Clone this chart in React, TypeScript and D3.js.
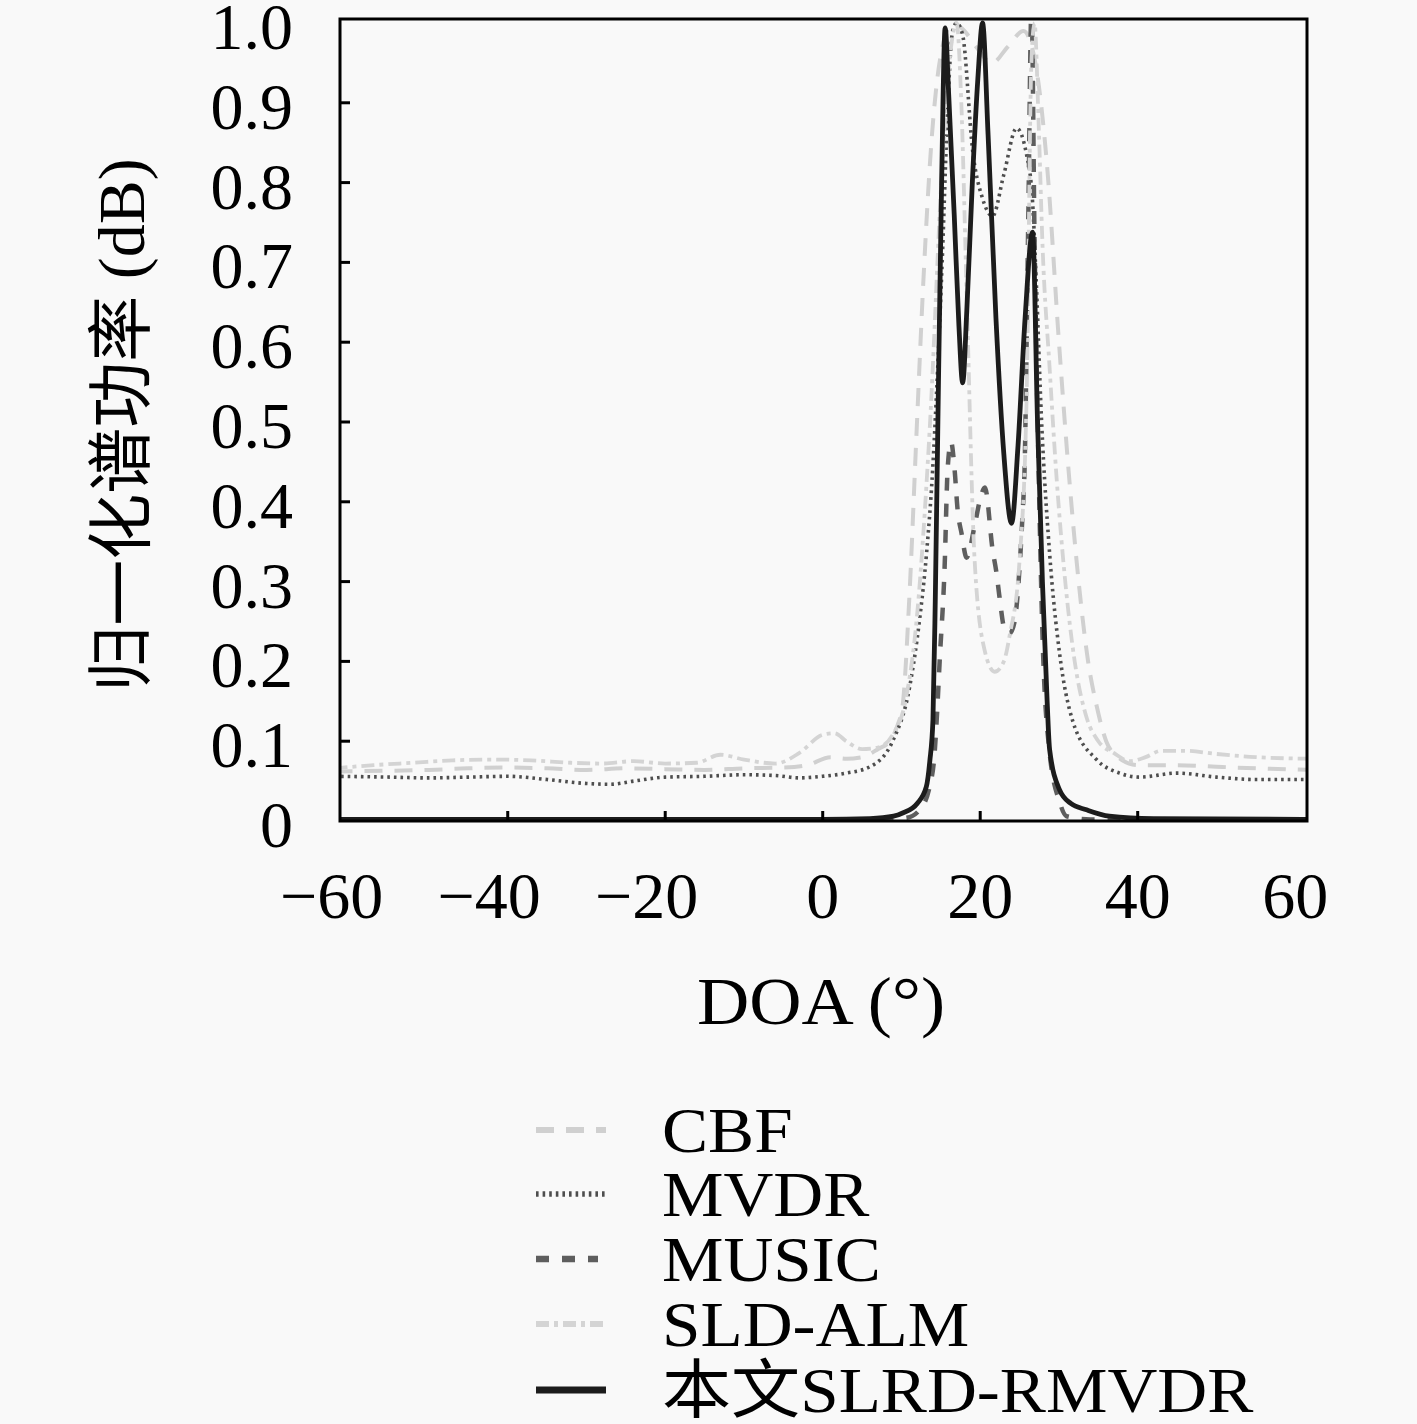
import React from "react";
import * as d3 from "d3";

// ---------- data (DOA in degrees, normalized power) ----------
const xTicks = [-60, -40, -20, 0, 20, 40, 60];
const yTicks = [0, 0.1, 0.2, 0.3, 0.4, 0.5, 0.6, 0.7, 0.8, 0.9, 1.0];
const yTickLabels = ["0", "0.1", "0.2", "0.3", "0.4", "0.5", "0.6", "0.7", "0.8", "0.9", "1.0"];

const seriesNames = ["CBF", "MVDR", "MUSIC", "SLD-ALM", "本文SLRD-RMVDR"];

const cbf: [number, number][] = [
  [-62, 0.062], [-55, 0.063], [-50, 0.064], [-45, 0.066], [-40, 0.067], [-35, 0.066],
  [-30, 0.064], [-25, 0.066], [-20, 0.065], [-15, 0.064], [-10, 0.066], [-5, 0.067],
  [-2, 0.07], [1, 0.08], [3, 0.078], [5, 0.08], [7, 0.09], [8.5, 0.1], [9.5, 0.12],
  [10.15, 0.145], [11, 0.28], [11.93, 0.49], [12.8, 0.68], [13.8, 0.85], [15, 0.96],
  [16.5, 1.0], [18, 0.99], [19.5, 0.97], [21.5, 0.95], [23.5, 0.97], [25.5, 0.99],
  [27, 0.95], [28.5, 0.82], [30, 0.6], [31.3, 0.43], [32.5, 0.3], [33.7, 0.2],
  [34.77, 0.145], [36, 0.1], [37.5, 0.08], [40, 0.07], [45, 0.07], [50, 0.068],
  [55, 0.066], [62, 0.064],
];

const mvdr: [number, number][] = [
  [-62, 0.056], [-55, 0.055], [-50, 0.054], [-45, 0.055], [-40, 0.056], [-35, 0.052],
  [-30, 0.047], [-27, 0.046], [-24, 0.05], [-20, 0.055], [-15, 0.056], [-10, 0.058],
  [-6, 0.057], [-3, 0.054], [0, 0.056], [3, 0.06], [6, 0.068], [8.88, 0.1],
  [11.04, 0.168], [12.31, 0.253], [13.2, 0.337], [13.96, 0.44], [14.47, 0.54],
  [15.23, 0.716], [15.74, 0.86], [16.5, 0.99], [17.0, 1.0], [17.77, 0.985],
  [19.04, 0.84], [20.3, 0.78], [21.57, 0.758], [23.0, 0.81], [24.62, 0.868],
  [25.89, 0.835], [26.65, 0.776], [27.1, 0.68], [27.79, 0.502], [28.81, 0.336],
  [30.08, 0.21], [31.73, 0.126], [34.77, 0.077], [37.69, 0.06], [40.2, 0.055],
  [45, 0.06], [50, 0.055], [55, 0.052], [62, 0.052],
];

const music: [number, number][] = [
  [-62, 0.001], [-30, 0.001], [0, 0.001], [8, 0.002], [10.66, 0.004], [12.31, 0.014],
  [13.58, 0.043], [14.21, 0.085], [14.59, 0.148], [14.85, 0.2], [15.48, 0.318],
  [15.86, 0.44], [16.3, 0.475], [16.75, 0.44], [17.13, 0.39], [17.64, 0.36],
  [18.27, 0.33], [19.29, 0.37], [19.92, 0.4], [20.6, 0.418], [21.57, 0.34],
  [22.08, 0.31], [22.46, 0.28], [23.1, 0.24], [23.73, 0.235], [24.37, 0.25],
  [25.0, 0.318], [25.38, 0.385], [25.63, 0.44], [26.1, 0.75], [26.52, 1.02],
  [26.9, 0.73], [27.4, 0.45], [27.92, 0.23], [28.81, 0.086], [30.08, 0.024],
  [30.96, 0.006], [34, 0.002], [62, 0.001],
];

const sldAlm: [number, number][] = [
  [-62, 0.066], [-57, 0.07], [-52, 0.073], [-47, 0.076], [-42, 0.077], [-37, 0.076],
  [-32, 0.073], [-28, 0.072], [-24, 0.075], [-20, 0.072], [-16, 0.073], [-13, 0.083],
  [-10, 0.077], [-6, 0.072], [-3, 0.085], [0, 0.108], [1.5, 0.11], [3, 0.1], [5, 0.09],
  [7, 0.092], [9, 0.11], [10.5, 0.15], [12, 0.26], [13.58, 0.49], [15.23, 0.83],
  [16.3, 0.97], [17, 1.0], [17.6, 0.9], [18.27, 0.665], [19.29, 0.327], [20.56, 0.214],
  [21.83, 0.187], [23, 0.2], [23.73, 0.232], [25, 0.327], [25.89, 0.53], [26.5, 0.95],
  [26.9, 1.0], [27.4, 0.88], [27.92, 0.72], [28.8, 0.57], [29.7, 0.43], [30.8, 0.3],
  [32, 0.2], [33.5, 0.13], [35, 0.1], [37, 0.085], [39, 0.075], [41, 0.08], [43, 0.088],
  [46, 0.088], [50, 0.084], [55, 0.08], [62, 0.078],
];

const proposed: [number, number][] = [
  [-62, 0.002], [-30, 0.002], [0, 0.002], [6, 0.003], [9, 0.006], [10.15, 0.01],
  [12, 0.022], [13.16, 0.043], [13.6, 0.075], [14.0, 0.127], [14.3, 0.28],
  [14.63, 0.503], [15.1, 0.8], [15.55, 0.994], [16.0, 0.91], [16.7, 0.76],
  [17.3, 0.62], [17.77, 0.549], [18.3, 0.64], [19.0, 0.8], [19.7, 0.93], [20.3, 1.0],
  [21.0, 0.86], [22.0, 0.63], [23.0, 0.46], [23.98, 0.373], [24.8, 0.47],
  [25.7, 0.63], [26.65, 0.738], [27.28, 0.5], [27.9, 0.3], [28.5, 0.15],
  [28.81, 0.09], [30.08, 0.039], [31.5, 0.022], [33.5, 0.014], [36.4, 0.006],
  [42, 0.003], [62, 0.002],
];

const allSeries = [cbf, mvdr, music, sldAlm, proposed];

// ---------- styles ----------
const styles = [
  { stroke: "#d0d0d0", width: 4, dash: "18 12", cap: "butt" },
  { stroke: "#4e4e4e", width: 3.6, dash: "2.6 4", cap: "butt" },
  { stroke: "#5e5e5e", width: 4.5, dash: "13 13", cap: "butt" },
  { stroke: "#d4d4d4", width: 3.8, dash: "13 5 4 5", cap: "butt" },
  { stroke: "#1c1c1c", width: 4.8, dash: "none", cap: "round" },
];

const W = 1417;
const H = 1424;
const left = 340;
const right = 1307;
const top = 19;
const bottom = 821;

const FONT = "'Liberation Serif', 'Times New Roman', 'Noto Sans CJK SC', serif";

export default function App() {
  const x = d3.scaleLinear().domain([-61.3, 61.5]).range([left, right]);
  const y = d3.scaleLinear().domain([0, 1.005]).range([bottom, top]);
  const line = d3
    .line<[number, number]>()
    .x((d) => x(d[0]))
    .y((d) => y(d[1]))
    .curve(d3.curveMonotoneX);

  const legendY = [1130, 1194, 1259, 1324, 1390];

  return (
    <svg
      width={W}
      height={H}
      viewBox={`0 0 ${W} ${H}`}
      style={{ position: "absolute", left: 0, top: 0, background: "#f9f9f9" }}
      fontFamily={FONT}
    >
      <rect x={0} y={0} width={W} height={H} fill="#f9f9f9" />
      <defs>
        <clipPath id="plotClip">
          <rect x={left} y={top} width={right - left} height={bottom - top} />
        </clipPath>
      </defs>

      <g clipPath="url(#plotClip)">
        {allSeries.map((s, i) => (
          <path
            key={i}
            d={line(s) || ""}
            fill="none"
            stroke={styles[i].stroke}
            strokeWidth={styles[i].width}
            strokeDasharray={styles[i].dash}
            strokeLinecap={styles[i].cap as any}
            strokeLinejoin="round"
          />
        ))}
      </g>

      {/* ticks */}
      {xTicks
        .filter((t) => t > -60 && t < 60)
        .map((t) => (
          <line key={"xt" + t} x1={x(t)} x2={x(t)} y1={bottom} y2={bottom - 10} stroke="#000" strokeWidth={3} />
        ))}
      {yTicks
        .filter((t) => t > 0 && t < 1)
        .map((t) => (
          <line key={"yt" + t} x1={left} x2={left + 10} y1={y(t)} y2={y(t)} stroke="#000" strokeWidth={3} />
        ))}

      {/* frame */}
      <rect x={left} y={top} width={right - left} height={bottom - top} fill="none" stroke="#000" strokeWidth={3} />

      {/* tick labels */}
      {xTicks.map((t) => (
        <text
          key={"xl" + t}
          x={x(t) - (t < 0 ? 18.6 : 0)}
          y={918}
          fontSize={66}
          textAnchor="middle"
          fill="#000"
        >
          {t < 0 ? "\u2212" + Math.abs(t) : String(t)}
        </text>
      ))}
      {yTicks.map((t, i) => (
        <text key={"yl" + t} x={293} y={y(t) + 26} fontSize={66} textAnchor="end" fill="#000">
          {yTickLabels[i]}
        </text>
      ))}

      {/* axis titles */}
      <g transform="translate(821, 1024) scale(1.08, 1)">
        <text x={0} y={0} fontSize={67} textAnchor="middle" fill="#000">
          DOA (°)
        </text>
      </g>
      <text
        transform={`translate(144, 425) rotate(-90)`}
        fontSize={66}
        textAnchor="middle"
        fill="#000"
      >
        归一化谱功率 (dB)
      </text>

      {/* legend */}
      {seriesNames.map((name, i) => (
        <g key={name}>
          <line
            x1={536}
            x2={i === 2 ? 598 : 606}
            y1={legendY[i]}
            y2={legendY[i]}
            stroke={styles[i].stroke}
            strokeWidth={styles[i].width + 2}
            strokeDasharray={styles[i].dash}
          />
          <g transform={`translate(662, ${legendY[i] + 22}) scale(1.08, 1)`}>
            <text x={0} y={0} fontSize={64} fill="#000">
              {name}
            </text>
          </g>
        </g>
      ))}
    </svg>
  );
}
